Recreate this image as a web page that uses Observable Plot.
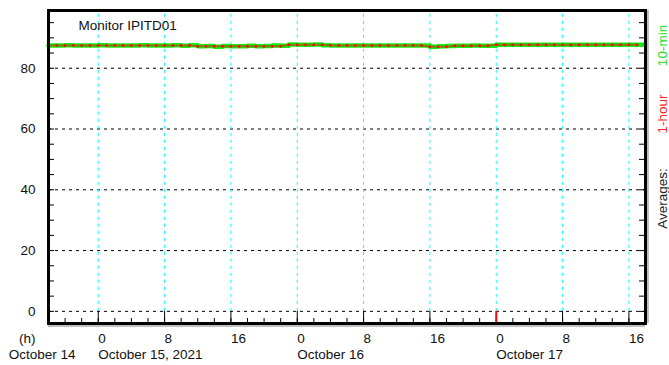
<!DOCTYPE html>
<html><head><meta charset="utf-8">
<script src="https://cdn.jsdelivr.net/npm/d3@7"></script>
<script src="https://cdn.jsdelivr.net/npm/@observablehq/plot@0.6"></script>
<style>body{margin:0;background:#fff}</style>
</head><body><div id="chart"></div>
<script>
const title = "Monitor IPITD01";
const startTime = new Date(Date.UTC(2021, 9, 14, 18));
const endTime = new Date(Date.UTC(2021, 9, 17, 18));

// 1-hour averages, hourly from Oct 14 18:00
const hourlyValues = [
  87.5,87.5,87.5,87.5,87.5,87.5,87.5,87.5,87.5,87.5,87.5,87.5,87.5,87.5,87.5,87.5,87.5,87.5,
  87.2,87.2,87.2,87.2,87.2,87.2,87.2,87.2,87.2,87.2,87.2,
  87.7,87.7,87.7,87.7,87.7,
  87.5,87.5,87.5,87.5,87.5,87.5,87.5,87.5,87.5,87.5,87.5,87.5,
  87.1,87.1,87.1,
  87.4,87.4,87.4,87.4,87.4,
  87.7,87.7,87.7,87.7,87.7,87.7,87.7,87.7,87.7,87.7,87.7,87.7,87.7,87.7,87.7,87.7,87.7,87.7
];
// 10-min averages (read at hourly resolution)
const tenMinValues = [
  87.5,87.5,87.6,87.5,87.5,87.5,87.6,87.5,87.5,87.5,87.5,87.6,87.5,87.5,87.5,87.6,
  87.4,87.6,87.2,87.3,87.1,87.3,87.2,87.2,87.4,87.2,87.3,87.5,87.4,
  87.8,87.7,87.7,87.8,87.6,
  87.5,87.5,87.5,87.5,87.5,87.5,87.5,87.5,87.5,87.5,87.5,87.5,
  87.1,87.2,87.3,
  87.4,87.4,87.5,87.4,87.4,
  87.7,87.7,87.7,87.7,87.7,87.7,87.7,87.7,87.7,87.7,87.7,87.7,87.7,87.7,87.7,87.7,87.7,87.7,87.7
];

const yTicks = [0, 20, 40, 60, 80];
const yMinorTicks = [0,5,10,15,20,25,30,35,40,45,50,55,60,65,70,75,80,85,90,95];
const yDomain = [-4, 99];
const hourTickTimes = [
  new Date(Date.UTC(2021,9,15,0)), new Date(Date.UTC(2021,9,15,8)), new Date(Date.UTC(2021,9,15,16)),
  new Date(Date.UTC(2021,9,16,0)), new Date(Date.UTC(2021,9,16,8)), new Date(Date.UTC(2021,9,16,16)),
  new Date(Date.UTC(2021,9,17,0)), new Date(Date.UTC(2021,9,17,8)), new Date(Date.UTC(2021,9,17,16))
];
const hourTickLabels = ["0","8","16","0","8","16","0","8","16"];
const markerTime = [new Date(Date.UTC(2021,9,17,0))];
const dateTimes = [new Date(Date.UTC(2021,9,15)), new Date(Date.UTC(2021,9,16)), new Date(Date.UTC(2021,9,17))];
const dateLabels = ["October 15, 2021", "October 16", "October 17"];
const firstDateLabel = "October 14";
const unitLabel = "(h)";
const sideLabels = ["10-min", "1-hour", "Averages:"];
const sideColors = ["#22dd22", "#ff2020", "#222"];

const hourMs = 3600e3;
const hourly = hourlyValues.map((v, i) => ({t: new Date(+startTime + i * hourMs), v}));
const tenMin = tenMinValues.map((v, i) => ({t: new Date(+startTime + i * hourMs), v}));
const minorX = d3.utcHour.every(2).range(startTime, endTime);

const FONT = "Liberation Sans, Arial, sans-serif";
const FS = 13.5;
const W = 669, H = 365, ML = 48, MR = 24, MT = 10, MB = 42;
const PW = W - ML - MR, PH = H - MT - MB;

const chart = Plot.plot({
  width: W, height: H,
  marginLeft: ML, marginRight: MR, marginTop: MT, marginBottom: MB,
  style: {fontFamily: FONT, fontSize: FS + "px", background: "#fff", overflow: "visible"},
  x: {type: "utc", domain: [startTime, endTime], axis: null},
  y: {domain: yDomain, axis: null},
  marks: [
    // horizontal dotted grid
    Plot.ruleY(yTicks, {stroke: "#000", strokeWidth: 1, strokeDasharray: "3,4"}),
    // vertical cyan grid
    Plot.ruleX(hourTickTimes, {y1: 0, y2: yDomain[1], stroke: "#00ffff", strokeWidth: 1, strokeDasharray: "3,4"}),
    // major x ticks below zero line
    Plot.ruleX(hourTickTimes.filter(d => +d !== +markerTime[0]), {y1: yDomain[0], y2: 0, stroke: "#000", strokeWidth: 1}),
    // minor x ticks
    Plot.tickX(minorX, {x: d => d, insetTop: PH - 5, stroke: "#000", strokeWidth: 1}),
    Plot.ruleX(markerTime, {y1: yDomain[0], y2: 0, stroke: "#ff0000", strokeWidth: 2}),
    // minor y ticks left/right
    Plot.tickY(yMinorTicks, {y: d => d, insetLeft: 1, insetRight: PW - 6, stroke: "#000", strokeWidth: 1}),
    Plot.tickY(yMinorTicks, {y: d => d, insetLeft: PW - 6, insetRight: 1, stroke: "#000", strokeWidth: 1}),
    // data
    Plot.line(tenMin, {x: "t", y: "v", stroke: "#11ee11", strokeWidth: 4.5, curve: "step-after"}),
    Plot.line(hourly, {x: "t", y: "v", stroke: "#ff0000", strokeOpacity: 0.5, strokeWidth: 2}),
    Plot.dot(hourly, {x: "t", y: "v", r: 1.3, fill: "#ff0000", symbol: "square"}),
    // frame shadow and frame
    Plot.ruleX([endTime], {dx: 2.5, stroke: "#aaa", strokeWidth: 1.5}),
    Plot.ruleY([yDomain[0]], {dy: 2.5, stroke: "#aaa", strokeWidth: 1.5}),
    Plot.frame({stroke: "#000", strokeWidth: 3}),
    // title
    Plot.text([title], {text: d => d, frameAnchor: "top-left", dx: 30, dy: 19.5, lineAnchor: "bottom", textAnchor: "start", fontSize: FS, fill: "#111"}),
    // y labels
    Plot.text(yTicks, {y: d => d, text: d => String(d), frameAnchor: "left", dx: -13, textAnchor: "end", lineAnchor: "middle", fontSize: FS, fill: "#111"}),
    // hour labels
    Plot.text(hourTickTimes, {x: d => d, text: (d, i) => hourTickLabels[i], frameAnchor: "bottom", dy: 19, lineAnchor: "bottom", textAnchor: "start", fontSize: FS, fill: "#111"}),
    // date labels
    Plot.text(dateTimes, {x: d => d, text: (d, i) => dateLabels[i], frameAnchor: "bottom", dy: 35, lineAnchor: "bottom", textAnchor: "start", fontSize: FS, fill: "#111"}),
    Plot.text([unitLabel], {text: d => d, frameAnchor: "bottom-left", dx: -13, dy: 19, lineAnchor: "bottom", textAnchor: "end", fontSize: FS, fill: "#111"}),
    Plot.text([firstDateLabel], {text: d => d, frameAnchor: "bottom-left", dx: 27, dy: 35, lineAnchor: "bottom", textAnchor: "end", fontSize: FS, fill: "#111"}),
    // right-side rotated labels
    Plot.text([sideLabels[0]], {text: d => d, frameAnchor: "top-right", dx: 17, dy: 35, rotate: -90, textAnchor: "middle", lineAnchor: "middle", fontSize: FS, fill: sideColors[0]}),
    Plot.text([sideLabels[1]], {text: d => d, frameAnchor: "top-right", dx: 17, dy: 103.5, rotate: -90, textAnchor: "middle", lineAnchor: "middle", fontSize: FS, fill: sideColors[1]}),
    Plot.text([sideLabels[2]], {text: d => d, frameAnchor: "top-right", dx: 17, dy: 188, rotate: -90, textAnchor: "middle", lineAnchor: "middle", fontSize: FS, fill: sideColors[2]})
  ]
});
document.getElementById("chart").appendChild(chart);
</script>
</body></html>
